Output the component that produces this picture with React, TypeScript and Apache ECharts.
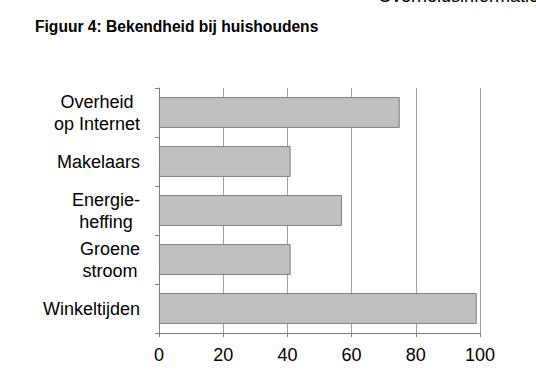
import React, { useEffect, useRef } from "react";
import * as echarts from "echarts";

const categories = ["Overheid\nop Internet", "Makelaars", "Energie-\nheffing", "Groene\nstroom", "Winkeltijden"];
const values = [75, 41, 57, 41, 99];
const xTicks = [0, 20, 40, 60, 80, 100];
const title = "Figuur 4: Bekendheid bij huishoudens";
const headerText = "Overheidsinformatie";

export default function App() {
  const ref = useRef<HTMLDivElement>(null);
  useEffect(() => {
    if (!ref.current) return;
    const chart = echarts.init(ref.current, undefined, { renderer: "svg" });
    const font = "'Liberation Sans', Arial, Helvetica, sans-serif";
    chart.setOption({
      animation: false,
      backgroundColor: "#ffffff",
      textStyle: { fontFamily: font },
      graphic: [
        {
          type: "text",
          left: 35,
          top: 18,
          style: { text: title, font: `bold 15.6px ${font}`, fill: "#000" },
        },
        {
          type: "text",
          x: 378,
          y: 5,
          style: { text: headerText, font: `18px ${font}`, fill: "#000", textVerticalAlign: "bottom" },
        },
      ],
      grid: { left: 159, right: 56, top: 88, bottom: 41, containLabel: false },
      xAxis: {
        type: "value",
        min: xTicks[0],
        max: xTicks[xTicks.length - 1],
        interval: 20,
        axisLine: { show: true, lineStyle: { color: "#808080", width: 1 } },
        axisTick: { show: true, length: 4, lineStyle: { color: "#808080" } },
        axisLabel: { color: "#000", fontSize: 18, margin: 13, fontFamily: font },
        splitLine: { show: true, lineStyle: { color: "#a0a0a0", width: 1 } },
      },
      yAxis: {
        type: "category",
        inverse: true,
        data: categories,
        axisLine: { show: true, lineStyle: { color: "#808080", width: 1 } },
        axisTick: { show: true, length: 4, lineStyle: { color: "#808080" } },
        axisLabel: {
          color: "#000",
          fontSize: 18,
          margin: 19,
          align: "right",
          lineHeight: 22,
          fontFamily: font,
          formatter: (v: string) => v.split("\n").map((l) => `{c|${l}}`).join("\n"),
          rich: { c: { align: "center", fontSize: 18, lineHeight: 22, color: "#000", fontFamily: font } },
        },
      },
      series: [
        {
          type: "bar",
          data: values,
          barCategoryGap: "37%",
          itemStyle: { color: "#c0c0c0", borderColor: "#808080", borderWidth: 1 },
        },
      ],
    });
    return () => chart.dispose();
  }, []);
  return <div ref={ref} style={{ position: "absolute", left: 0, top: 0, width: 536, height: 374 }} />;
}
